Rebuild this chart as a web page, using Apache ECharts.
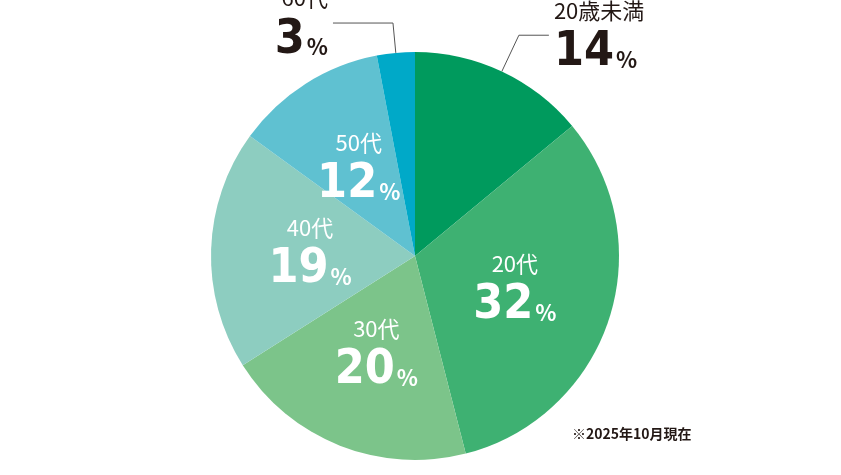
<!DOCTYPE html>
<html><head><meta charset="utf-8">
<script src="https://cdn.jsdelivr.net/npm/echarts@6/dist/echarts.min.js"></script>
<style>html,body{margin:0;background:#fff}#c{width:841px;height:475px}</style>
</head><body><div id="c"></div>
<script>
var names = ['20歳未満', '20代', '30代', '40代', '50代', '60代']
var values = [14, 32, 20, 19, 12, 3]
var colors = ['#009a5d', '#3eb172', '#7cc48a', '#8dcdc0', '#5fc1d1', '#00a9c8']

var font = '"Noto Sans CJK JP", sans-serif'
var numFont = '"Liberation Sans Narrow", "DejaVu Sans Condensed", sans-serif'

function rich(c) {
    return {
        n: {fontFamily: font, fontSize: 22, color: c, lineHeight: 34},
        v: {fontFamily: numFont, fontWeight: 'bold', fontSize: 48, color: c, lineHeight: 50},
        p: {fontFamily: font, fontWeight: 'bold', fontSize: 22, color: c, padding: [14, 0, 0, 2]}
    }
}

var data = names.map(function(n, i) {
    var d = {name: n, value: values[i], itemStyle: {color: colors[i]}}
    if (i === 0) {
        d.label = {position: 'outside', align: 'center', rich: rich('#231815')}
        d.labelLine = {show: true, length: 40, length2: 30, lineStyle: {color: '#555', width: 1}}
        d.labelLayout = {x: 700, y: 95}
    } else if (i === 5) {
        d.label = {position: 'outside', align: 'center', rich: rich('#231815')}
        d.labelLine = {show: true, length: 30, length2: 60, lineStyle: {color: '#555', width: 1}}
        d.labelLayout = {x: 171, y: 73}
    }
    return d
})

var myChart = echarts.init(document.getElementById('c'))
myChart.setOption({
    animation: false,
    series: [{
        type: 'pie',
        center: [415, 256],
        radius: 204,
        startAngle: 90,
        clockwise: true,
        data: data,
        label: {
            position: 'inner',
            formatter: function(p) { return '{n|' + p.name + '}\n{v|' + p.value + '}{p|%}' },
            rich: rich('#fff')
        },
        labelLine: {show: false}
    }],
    graphic: [{
        type: 'text', left: 572, top: 427,
        style: {text: '※2025年10月現在', font: 'bold 14px ' + font, fill: '#231815'}
    }]
})
</script></body></html>
